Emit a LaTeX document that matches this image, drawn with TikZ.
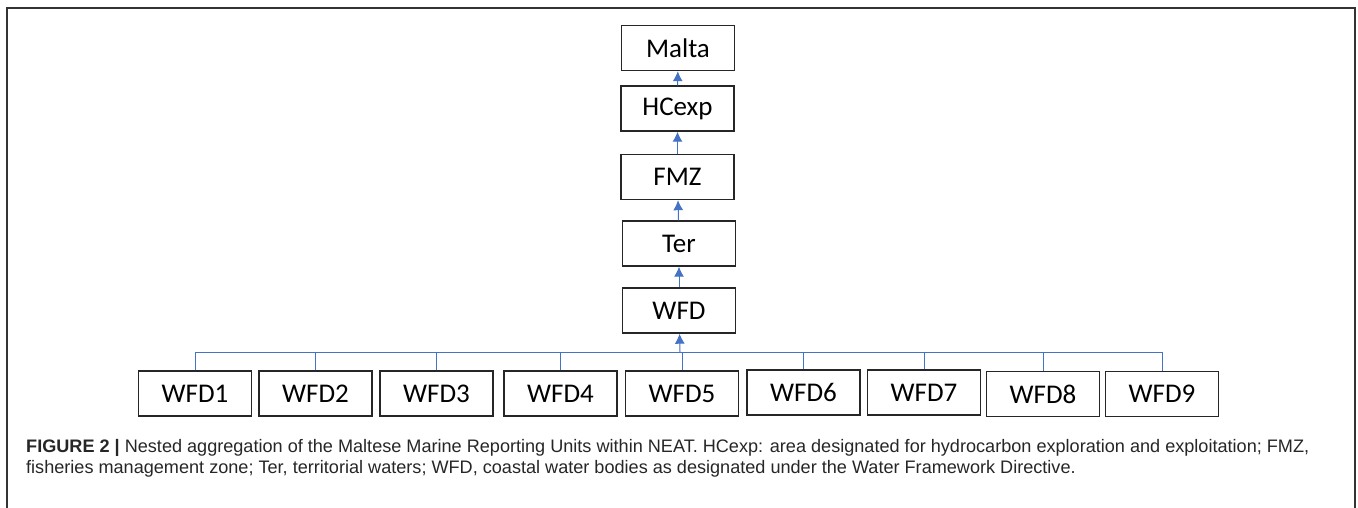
\documentclass[tikz,border=0pt]{standalone}
\usepackage{fontspec}
\setmainfont{Carlito}
\newfontfamily\capfont{Liberation Sans}
\usepackage{tikz}
\usetikzlibrary{arrows.meta}

\definecolor{linkblue}{HTML}{4472C4}
\tikzset{
  unit/.style={draw=black!85,line width=1.4pt,minimum width=113pt,minimum height=45pt,inner sep=0pt,font=\fontsize{27}{32}\selectfont},
  link/.style={draw=linkblue,line width=1pt},
  up/.style={link,-{Latex[length=10pt,width=10pt]}},
  frame/.style={draw=black!80,line width=1.6pt},
  captext/.style={anchor=base west,inner sep=0pt,font=\capfont\fontsize{18.1}{21}\selectfont,text=black!85}
}

\begin{document}
\begin{tikzpicture}[x=1pt,y=-1pt]
  \useasboundingbox (0,0) rectangle (1358,508);
  \draw[frame] (7,508) -- (7,8) -- (1355,8) -- (1355,508);
  % chain of units
  \node[unit](malta)at(678,48){Malta};
  \node[unit](hcexp)at(677.5,108.5){HCexp};
  \node[unit](fmz)at(677.5,177){FMZ};
  \node[unit](ter)at(679,243.5){Ter};
  \node[unit](wfd)at(679,310.5){WFD};
  \draw[up](hcexp)--(malta);
  \draw[up](fmz)--(hcexp);
  \draw[up](ter)--(fmz);
  \draw[up](wfd)--(ter);
  % water bodies
  \foreach \x/\y/\n in {195/393.5/1, 315.5/393.5/2, 436.5/393.5/3, 560.5/393.5/4, 682/393.5/5, 803.5/392.5/6, 924/392.5/7, 1043/394/8, 1162/394/9}
    \node[unit](w\n)at(\x,\y){WFD\n};
  \coordinate(bus)at(680,352);
  \foreach \n in {1,...,9} \draw[link](w\n.north)--(w\n.north |- bus);
  \draw[link](w1.north |- bus)--(w9.north |- bus);
  \draw[up](bus)--(wfd);
  % caption
  \node[captext](cap1)at(26,452){\textbf{FIGURE 2 |} Nested aggregation of the Maltese Marine Reporting Units within NEAT. HCexp: area designated for hydrocarbon exploration and exploitation; FMZ,};
  \node[captext](cap2)at(26,473){fisheries management zone; Ter, territorial waters; WFD, coastal water bodies as designated under the Water Framework Directive.};
\end{tikzpicture}
\end{document}
